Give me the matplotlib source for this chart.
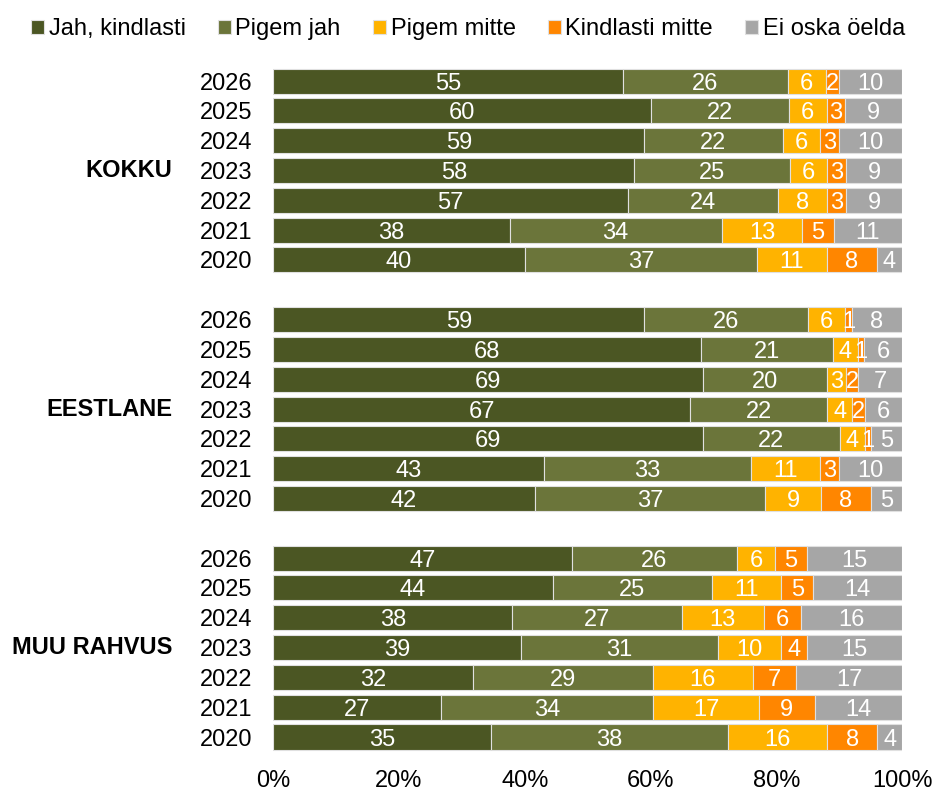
import matplotlib
matplotlib.use("Agg")
import matplotlib.pyplot as plt
import numpy as np

plt.rcParams['font.family'] = ['Liberation Sans', 'DejaVu Sans']

categories = ["Jah, kindlasti", "Pigem jah", "Pigem mitte", "Kindlasti mitte", "Ei oska öelda"]
colors = ["#4B5623", "#6B753A", "#FFB300", "#FF8600", "#A6A6A6"]
groups = ["KOKKU", "EESTLANE", "MUU RAHVUS"]
years = ["2026", "2025", "2024", "2023", "2022", "2021", "2020"]

kokku = [
    [55, 26, 6, 2, 10],
    [60, 22, 6, 3, 9],
    [59, 22, 6, 3, 10],
    [58, 25, 6, 3, 9],
    [57, 24, 8, 3, 9],
    [38, 34, 13, 5, 11],
    [40, 37, 11, 8, 4],
]
eestlane = [
    [59, 26, 6, 1, 8],
    [68, 21, 4, 1, 6],
    [69, 20, 3, 2, 7],
    [67, 22, 4, 2, 6],
    [69, 22, 4, 1, 5],
    [43, 33, 11, 3, 10],
    [42, 37, 9, 8, 5],
]
muu = [
    [47, 26, 6, 5, 15],
    [44, 25, 11, 5, 14],
    [38, 27, 13, 6, 16],
    [39, 31, 10, 4, 15],
    [32, 29, 16, 7, 17],
    [27, 34, 17, 9, 14],
    [35, 38, 16, 8, 4],
]
group_data = [kokku, eestlane, muu]

FS = 17

fig = plt.figure(figsize=(9.36, 7.93), dpi=100)
ax = fig.add_axes([0.2920, 0.0518, 0.6717, 0.8648])

ypos = []
rows = []
for gi, gdata in enumerate(group_data):
    for ri, row in enumerate(gdata):
        ypos.append(gi * 8 + ri)
        rows.append(row)
ypos = np.array(ypos)
vals = np.array(rows, dtype=float)
norm = vals / vals.sum(axis=1, keepdims=True) * 100

left = np.zeros(len(ypos))
for ci, cat in enumerate(categories):
    bars = ax.barh(ypos, norm[:, ci], left=left, height=0.84, color=colors[ci],
                   edgecolor="#E0E0E0", linewidth=0.8, label=cat)
    texts = ax.bar_label(bars, labels=[str(int(v)) for v in vals[:, ci]], label_type='center',
                         color='white', fontsize=FS)
    for t in texts:
        t.set_va('center_baseline')
    left += norm[:, ci]

ax.set_xlim(0, 100)
ax.set_ylim(22.5, -0.5)
ax.set_xticks([0, 20, 40, 60, 80, 100])
ax.set_xticklabels(["0%", "20%", "40%", "60%", "80%", "100%"], fontsize=FS)
ax.set_yticks(ypos)
ax.set_yticklabels(years * 3, fontsize=FS)
ax.tick_params(axis='y', length=0, pad=15)
ax.tick_params(axis='x', length=0, pad=13)
for s in ax.spines.values():
    s.set_visible(False)

for gi, g in enumerate(groups):
    ax.text(-0.160, gi * 8 + 3, g, transform=ax.get_yaxis_transform(), ha='right', va='center',
            fontsize=FS, fontweight='bold')

fig.legend(loc='upper center', bbox_to_anchor=(0.500, 0.998), ncol=5, frameon=False, fontsize=FS,
           handlelength=0.55, handleheight=0.55, handletextpad=0.2, columnspacing=1.36,
           borderaxespad=0.3)

fig.savefig("out.png", dpi=100)
